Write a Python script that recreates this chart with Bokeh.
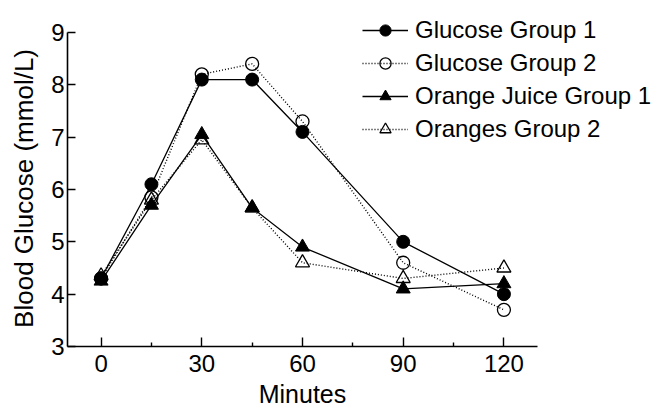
import math
from bokeh.plotting import figure
from bokeh.models import Range1d, FixedTicker, Legend, LegendItem, Label
from bokeh.embed import file_html
from bokeh.resources import INLINE

minutes = [0, 15, 30, 45, 60, 90, 120]
glucose_g1 = [4.3, 6.1, 8.1, 8.1, 7.1, 5.0, 4.0]
glucose_g2 = [4.3, 5.85, 8.2, 8.4, 7.3, 4.6, 3.7]
orange_juice_g1 = [4.25, 5.7, 7.05, 5.65, 4.9, 4.1, 4.2]
oranges_g2 = [4.35, 5.8, 6.95, 5.65, 4.6, 4.3, 4.5]

x_major = [0, 30, 60, 90, 120]
x_minor = [15, 45, 75, 105]
y_ticks = [3, 4, 5, 6, 7, 8, 9]

FONT = "Liberation Sans"

# The frame fills the canvas; the axes are pinned at x=-10 / y=3 and drawn
# only over x in [-10, 130] and y in [3, 9].
p = figure(width=666, height=410, output_backend="svg", toolbar_location=None,
           x_range=Range1d(-29.96, 168.43), y_range=Range1d(1.7765, 9.6115),
           min_border_left=0, min_border_right=0, min_border_top=0,
           min_border_bottom=0)
p.outline_line_color = None
p.grid.visible = False

for ax in (p.xaxis[0], p.yaxis[0]):
    ax.axis_line_width = 1.6
    ax.axis_line_color = "black"
    ax.major_tick_line_color = "black"
    ax.major_tick_line_width = 1.4
    ax.major_tick_out = 0
    ax.major_label_text_font = FONT
    ax.major_label_text_font_size = "24px"
    ax.major_label_text_color = "black"

p.xaxis.fixed_location = 3
p.xaxis.bounds = (-10, 130)
p.xaxis.ticker = FixedTicker(ticks=x_major, minor_ticks=x_minor)
p.xaxis.major_tick_in = 9
p.xaxis.minor_tick_in = 4
p.xaxis.minor_tick_out = 0
p.xaxis.minor_tick_line_color = "black"
p.xaxis.minor_tick_line_width = 1.4
p.xaxis.major_label_standoff = 9

p.yaxis.fixed_location = -10
p.yaxis.bounds = (3, 9)
p.yaxis.ticker = FixedTicker(ticks=y_ticks)
p.yaxis.major_tick_in = 8
p.yaxis.minor_tick_line_color = None
p.yaxis.major_label_standoff = 3

# axis titles
p.add_layout(Label(x=60, y=2.1, text="Minutes", text_align="center",
                   text_baseline="middle", text_font=FONT, text_font_size="25px",
                   text_color="black"))
p.add_layout(Label(x=-23.1, y=6.02, text="Blood Glucose (mmol/L)", angle=math.pi / 2,
                   text_align="center", text_baseline="middle", text_font=FONT,
                   text_font_size="26px", text_color="black"))

MS = 13

# open-marker series first
l2 = p.line(minutes, glucose_g2, line_color="black", line_width=1.4, line_dash="1 2")
m2 = p.scatter(minutes, glucose_g2, marker="circle", size=MS, line_color="black",
               line_width=1.3, fill_alpha=0)
l4 = p.line(minutes, oranges_g2, line_color="black", line_width=1.4, line_dash="1 2")
m4 = p.scatter(minutes, oranges_g2, marker="triangle", size=MS + 1, line_color="black",
               line_width=1.3, fill_alpha=0)
l1 = p.line(minutes, glucose_g1, line_color="black", line_width=1.3)
m1 = p.scatter(minutes, glucose_g1, marker="circle", size=MS, line_color="black",
               fill_color="black")
l3 = p.line(minutes, orange_juice_g1, line_color="black", line_width=1.3)
m3 = p.scatter(minutes, orange_juice_g1, marker="triangle", size=MS + 1,
               line_color="black", fill_color="black")

legend = Legend(items=[
    LegendItem(label="Glucose Group 1", renderers=[l1, m1]),
    LegendItem(label="Glucose Group 2", renderers=[l2, m2]),
    LegendItem(label="Orange Juice Group 1", renderers=[l3, m3]),
    LegendItem(label="Oranges Group 2", renderers=[l4, m4]),
], location=(362, 267))
legend.label_text_font = FONT
legend.label_text_font_size = "24px"
legend.label_text_color = "black"
legend.glyph_width = 46
legend.glyph_height = 28
legend.label_height = 28
legend.spacing = 5
legend.label_standoff = 7
legend.padding = 0
legend.margin = 0
legend.border_line_alpha = 0
legend.background_fill_alpha = 0
p.add_layout(legend, "center")

open("out.html", "w").write(file_html(p, INLINE))
